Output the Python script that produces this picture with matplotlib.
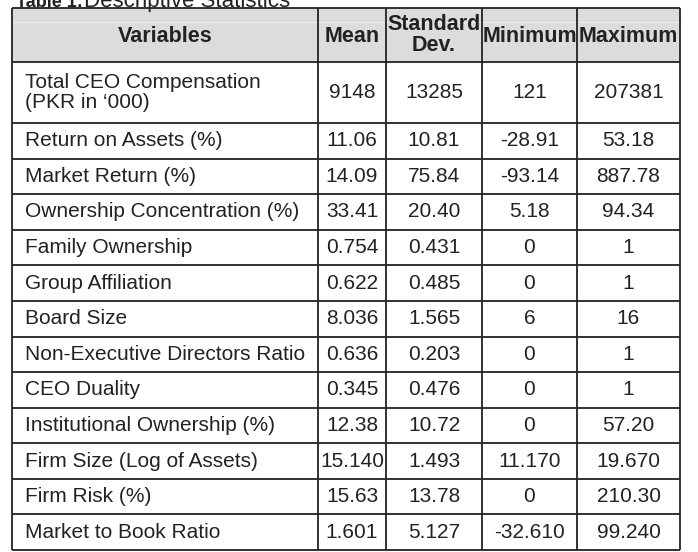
'''Descriptive statistics table, redrawn with matplotlib.'''

import matplotlib
matplotlib.use("Agg")
import matplotlib.pyplot as plt
from matplotlib.patches import Rectangle

plt.rcParams['font.family'] = ['Liberation Sans', 'DejaVu Sans']

# table contents
headers = ["Variables", "Mean", "Standard\nDev.", "Minimum", "Maximum"]
variables = ["Total CEO Compensation\n(PKR in \u2018000)", "Return on Assets (%)", "Market Return (%)",
             "Ownership Concentration (%)", "Family Ownership", "Group Affiliation", "Board Size",
             "Non-Executive Directors Ratio", "CEO Duality", "Institutional Ownership (%)",
             "Firm Size (Log of Assets)", "Firm Risk (%)", "Market to Book Ratio"]
mean = ["9148", "11.06", "14.09", "33.41", "0.754", "0.622", "8.036", "0.636", "0.345",
        "12.38", "15.140", "15.63", "1.601"]
std_dev = ["13285", "10.81", "75.84", "20.40", "0.431", "0.485", "1.565", "0.203", "0.476",
           "10.72", "1.493", "13.78", "5.127"]
minimum = ["121", "-28.91", "-93.14", "5.18", "0", "0", "6", "0", "0", "0", "11.170", "0", "-32.610"]
maximum = ["207381", "53.18", "887.78", "94.34", "1", "1", "16", "1", "1", "57.20", "19.670",
           "210.30", "99.240"]

# layout in pixels
W, H = 698, 552
col_edges = [12, 318, 386, 482, 577, 680]
header_top, header_bot = 8, 62
first_row_h = 61
row_h = (550 - header_bot - first_row_h) / (len(variables) - 1)

fig = plt.figure(figsize=(W / 100, H / 100), dpi=100)
ax = fig.add_axes([0, 0, 1, 1])
ax.set_xlim(0, W)
ax.set_ylim(H, 0)
ax.axis('off')

fs = 15
fs_head = 15.5
lw = 1.3
ink = '#222222'

# header background (with the faint light band of the scan)
ax.add_patch(Rectangle((col_edges[0], header_top), col_edges[-1] - col_edges[0],
                       header_bot - header_top, facecolor='#dcdcdc', edgecolor='none'))
ax.plot([col_edges[0], col_edges[-1]], [22, 22], color='#eeeeee', lw=0.8)

# row edges
row_edges = [header_top, header_bot, header_bot + first_row_h]
for i in range(len(variables) - 1):
    row_edges.append(row_edges[-1] + row_h)

for y in row_edges:
    ax.plot([col_edges[0], col_edges[-1]], [y, y], color=ink, lw=lw, solid_capstyle='butt')
for x in col_edges:
    ax.plot([x, x], [row_edges[0], row_edges[-1]], color=ink, lw=lw, solid_capstyle='butt')

# header text
for j, h in enumerate(headers):
    cx = (col_edges[j] + col_edges[j + 1]) / 2
    cy = (header_top + header_bot) / 2
    dy = 0 if '\n' in h else 1
    ax.text(cx, cy + dy, h, ha='center', va='center', fontsize=fs_head, fontweight='bold',
            color=ink, linespacing=1.02)

# body
columns = [mean, std_dev, minimum, maximum]
for i, name in enumerate(variables):
    cy = (row_edges[i + 1] + row_edges[i + 2]) / 2
    ax.text(col_edges[0] + 13, cy, name, ha='left', va='center', fontsize=fs,
            color=ink, linespacing=1.0)
    for j, col in enumerate(columns):
        cx = (col_edges[j + 1] + col_edges[j + 2]) / 2
        ax.text(cx, cy, col[i], ha='center', va='center', fontsize=fs, color=ink)

# title, cut off by the top edge as in the scan
ax.text(16, 7, "Table 1:", ha='left', va='baseline', fontsize=13, fontweight='bold', color=ink)
ax.text(84, 7, "Descriptive Statistics", ha='left', va='baseline', fontsize=16, color=ink)

fig.savefig("out.png", dpi=100)
